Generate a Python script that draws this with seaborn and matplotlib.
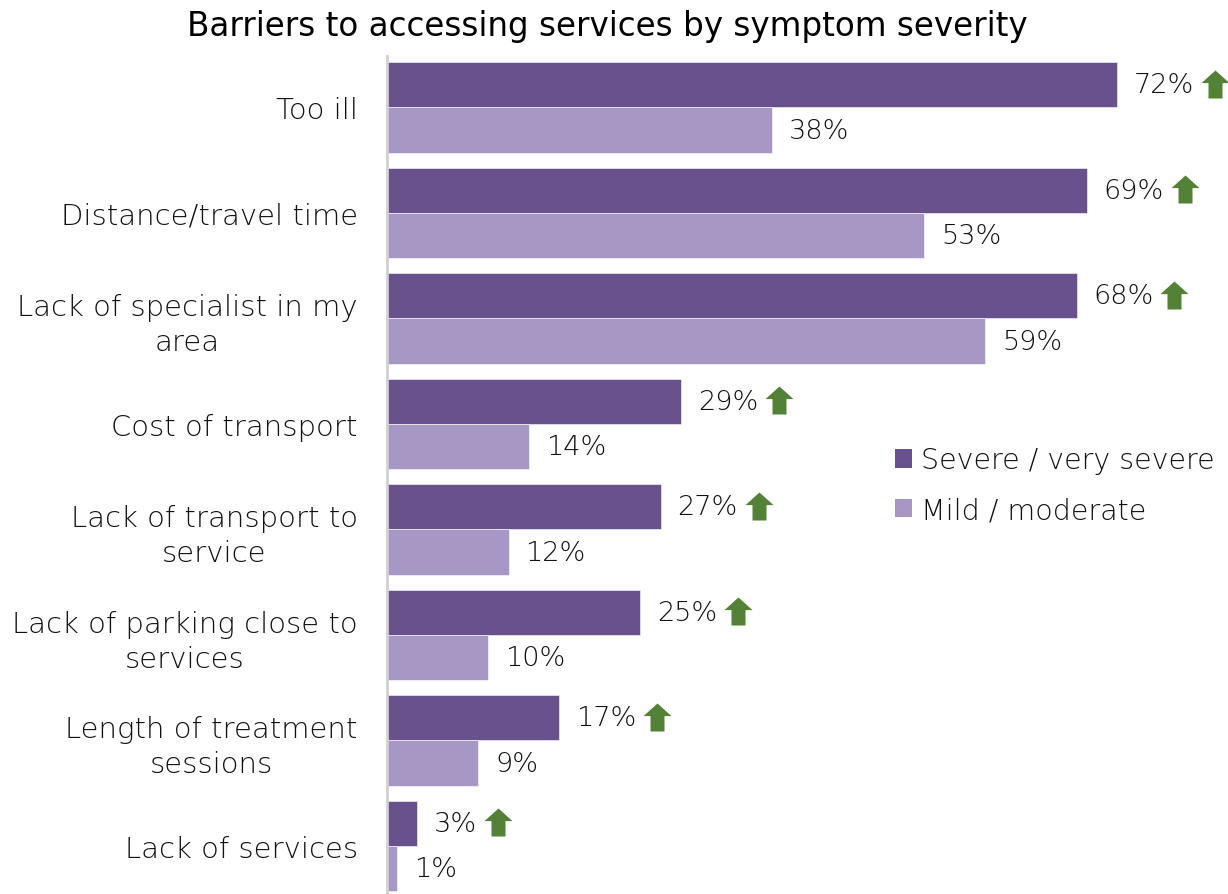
import matplotlib
matplotlib.use("Agg")
import matplotlib.pyplot as plt
import matplotlib.path as mpath
from matplotlib.patches import Patch
import seaborn as sns
import pandas as pd

categories = [
    "Too ill",
    "Distance/travel time",
    "Lack of specialist in my\narea",
    "Cost of transport",
    "Lack of transport to\nservice",
    "Lack of parking close to\nservices",
    "Length of treatment\nsessions",
    "Lack of services",
]
severe = [72, 69, 68, 29, 27, 25, 17, 3]
mild = [38, 53, 59, 14, 12, 10, 9, 1]
series_names = ["Severe / very severe", "Mild / moderate"]
colors = ["#68518C", "#A797C4"]
arrow_color = "#538135"

df = pd.DataFrame({
    "Barrier": categories * 2,
    "Percent": severe + mild,
    "Group": [series_names[0]] * len(categories) + [series_names[1]] * len(categories),
})

sns.set_theme(style="white")
plt.rcParams["font.family"] = ["DejaVu Sans"]
plt.rcParams["font.weight"] = "light"

W, H = 1228, 895
fig = plt.figure(figsize=(W / 100, H / 100), dpi=100)
ax = fig.add_axes([387 / W, 0, (W - 387) / W, (H - 57) / H])

sns.barplot(
    data=df, y="Barrier", x="Percent", hue="Group", orient="h",
    palette=colors, width=0.862, ax=ax, legend=False,
    edgecolor="white", linewidth=0.4, saturation=1,
)

ax.set_xlim(0, (W - 387) / 10.14)
ax.set_ylim(7.455, -0.488)
ax.set_xlabel("")
ax.set_ylabel("")
ax.set_xticks([])
for s in ["top", "right", "bottom"]:
    ax.spines[s].set_visible(False)
ax.spines["left"].set_color("#D0D0D0")
ax.spines["left"].set_linewidth(2)
ax.tick_params(axis="y", length=0, pad=21, labelsize=21, labelcolor="#111111")
for lbl in ax.get_yticklabels():
    lbl.set_multialignment("center")
    lbl.set_linespacing(1.3)

# value labels
texts = []
for i, container in enumerate(ax.containers):
    labels = ax.bar_label(container, labels=[f"{v:.0f}%" for v in container.datavalues],
                          padding=12, fontsize=19.5, color="#111111")
    if i == 0:
        texts = labels

# green up arrows after the severe labels
arrow = mpath.Path(
    [(-0.25, -0.5), (-0.25, 0.05), (-0.5, 0.05), (0, 0.5), (0.5, 0.05),
     (0.25, 0.05), (0.25, -0.5), (-0.25, -0.5)],
    [mpath.Path.MOVETO] + [mpath.Path.LINETO] * 6 + [mpath.Path.CLOSEPOLY],
)
fig.canvas.draw()
renderer = fig.canvas.get_renderer()
inv = ax.transData.inverted()
for t in texts:
    bb = t.get_window_extent(renderer)
    cx = bb.x1 + 7 + 14
    cy = (bb.y0 + bb.y1) / 2 + 1
    dx, dy = inv.transform((cx, cy))
    ax.scatter([dx], [dy], marker=arrow, s=(28 * 0.72 / 0.5) ** 2 / 4 * 1.0,
               color=arrow_color, linewidths=0, clip_on=False, zorder=5)

handles = [Patch(facecolor=c, edgecolor="none") for c in colors]
fig.legend(handles, series_names, loc="upper left", bbox_to_anchor=(884 / W, 1 - 436 / H),
           frameon=False, fontsize=20.5, handlelength=0.6, handleheight=0.62,
           handletextpad=0.3, labelspacing=0.76, borderaxespad=0,
           labelcolor="#111111")

fig.suptitle("Barriers to accessing services by symptom severity",
             x=607 / W, y=1 - 10 / H, va="top", fontsize=23.5, color="black")

fig.savefig("out.png", dpi=100)
